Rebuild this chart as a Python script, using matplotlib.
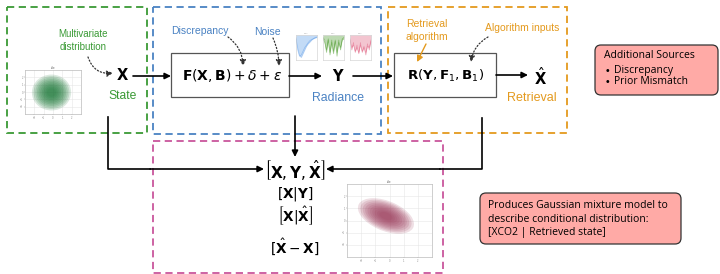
import matplotlib.pyplot as plt
from matplotlib.patches import Rectangle, FancyBboxPatch, Ellipse

plt.rcParams['mathtext.fontset'] = 'dejavusans'
plt.rcParams['font.family'] = 'Liberation Sans'

# stage colours and labels
green, blue, orange, pink = '#3a9a35', '#4a82c3', '#e49a1e', '#c9569c'
state_note = ['Multivariate', 'distribution']
forward_eq = r'$\mathbf{F}(\mathbf{X},\mathbf{B})+\delta+\epsilon$'
retrieval_eq = r'$\mathbf{R}(\mathbf{Y},\mathbf{F}_1,\mathbf{B}_1)$'
joint_terms = [r'$\left[\mathbf{X},\mathbf{Y},\hat{\mathbf{X}}\right]$',
               r'$\left[\mathbf{X}|\mathbf{Y}\right]$',
               r'$\left[\mathbf{X}|\hat{\mathbf{X}}\right]$',
               r'$\left[\hat{\mathbf{X}}-\mathbf{X}\right]$']
sources_title = 'Additional Sources'
sources_items = ['Discrepancy', 'Prior Mismatch']
gmm_lines = ['Produces Gaussian mixture model to',
             'describe conditional distribution:',
             '[XCO2 | Retrieved state]']

# hand-read spectra shapes for the three small radiance plots
spec_x = [0, 1, 2, 3, 4, 5, 6, 7, 8, 9, 10, 11, 12]
spec_blue = [[0.9, 0.5, 0.2, 0.1, 0.25, 0.4, 0.55, 0.65, 0.72, 0.8, 0.85, 0.88, 0.9],
             [0.85, 0.4, 0.15, 0.2, 0.35, 0.5, 0.6, 0.7, 0.78, 0.82, 0.86, 0.9, 0.92]]
spec_green = [[0.9, 0.8, 0.3, 0.85, 0.2, 0.8, 0.35, 0.75, 0.15, 0.8, 0.4, 0.85, 0.9],
              [0.85, 0.7, 0.4, 0.8, 0.3, 0.7, 0.25, 0.8, 0.3, 0.7, 0.5, 0.8, 0.85]]
spec_red = [[0.85, 0.4, 0.7, 0.3, 0.6, 0.25, 0.7, 0.3, 0.55, 0.2, 0.65, 0.4, 0.8],
            [0.8, 0.5, 0.6, 0.35, 0.5, 0.3, 0.6, 0.35, 0.5, 0.3, 0.55, 0.5, 0.75]]

W, H = 720, 274
fig = plt.figure(figsize=(W / 100, H / 100), dpi=100)
ax = fig.add_axes([0, 0, 1, 1])
ax.set_xlim(0, W)
ax.set_ylim(H, 0)
ax.axis('off')


def inset(x0, y0, x1, y1):
    return fig.add_axes([x0 / W, 1 - y1 / H, (x1 - x0) / W, (y1 - y0) / H])


def dashed_box(x0, y0, x1, y1, c):
    ax.add_patch(Rectangle((x0, y0), x1 - x0, y1 - y0, fill=False, ec=c,
                           lw=1.3, ls=(0, (4, 2.5))))


def arrow(p0, p1, c='black', ls='-', rad=0.0, lw=1.2):
    ax.annotate('', xy=p1, xytext=p0,
                arrowprops=dict(arrowstyle='-|>', color=c, lw=lw, ls=ls,
                                mutation_scale=9, shrinkA=0, shrinkB=0,
                                connectionstyle=f'arc3,rad={rad}'))


def blob_plot(x0, y0, x1, y1, cx, cy, w, h, ang, col):
    a = inset(x0, y0, x1, y1)
    a.set_xlim(-3, 3)
    a.set_ylim(-3, 3)
    for s in a.spines.values():
        s.set_color('#bbbbbb')
        s.set_linewidth(0.5)
    a.grid(color='#e6e6e6', lw=0.4)
    a.set_axisbelow(True)
    a.set_xticks([-2, -1, 0, 1, 2])
    a.set_yticks([-2, -1, 0, 1, 2])
    a.tick_params(labelsize=1.8, length=1, width=0.3, colors='#888888', pad=0.5)
    a.set_title('title', fontsize=2, pad=1, color='#555555')
    for i in range(10):
        k = 1.0 - 0.085 * i
        a.add_patch(Ellipse((cx, cy), w * k, h * k, angle=ang, fc=col, ec='none', alpha=0.16))
    return a


def spec_plot(x0, y0, x1, y1, series, col):
    a = inset(x0, y0, x1, y1)
    for s in a.spines.values():
        s.set_color('#cccccc')
        s.set_linewidth(0.4)
    a.set_xticks([])
    a.set_yticks([])
    a.set_title('spec', fontsize=1.5, pad=0.5, color='#999999')
    for ys in series:
        a.fill_between(spec_x, ys, 1, color=col, alpha=0.2, lw=0)
        a.plot(spec_x, ys, color=col, lw=0.5, alpha=0.5)
    a.set_ylim(0, 1)
    a.set_xlim(0, 12)
    a.patch.set_alpha(0.4)


# stage boxes
dashed_box(7, 7, 147, 133, green)
dashed_box(153, 7, 381, 134, blue)
dashed_box(388, 7, 567, 133, orange)
dashed_box(153, 141, 443, 273, pink)

# state stage
ax.text(83, 34, state_note[0], color=green, fontsize=7, ha='center', va='center')
ax.text(83, 47, state_note[1], color=green, fontsize=7, ha='center', va='center')
ax.text(122, 75, r'$\mathbf{X}$', fontsize=10.5, ha='center', va='center')
ax.text(123, 96, 'State', color=green, fontsize=8.7, ha='center', va='center')
arrow((88, 57), (113, 73), c='#333333', ls=':', rad=0.4, lw=0.9)
blob_plot(25, 70, 81, 114, -0.16, -0.07, 4.2, 4.9, 0, '#1f7a3a')

# forward model stage
ax.add_patch(Rectangle((171, 53), 118, 44, fill=False, ec='#555555', lw=0.9))
ax.text(232, 76, forward_eq, fontsize=10, ha='center', va='center')
ax.text(200, 31, 'Discrepancy', color=blue, fontsize=7.5, ha='center', va='center')
ax.text(267, 32, 'Noise', color=blue, fontsize=7.5, ha='center', va='center')
arrow((228, 37), (243, 66), c='#333333', ls=':', rad=-0.25, lw=0.9)
arrow((273, 38), (279, 66), c='#333333', ls=':', rad=-0.1, lw=0.9)
spec_plot(296, 35, 317, 60, spec_blue, '#5b9be8')
spec_plot(323, 35, 344, 60, spec_green, '#4a9a2a')
spec_plot(350, 35, 371, 60, spec_red, '#e06080')
ax.text(338, 76, r'$\mathbf{Y}$', fontsize=10.5, ha='center', va='center')
ax.text(338, 98, 'Radiance', color=blue, fontsize=8.8, ha='center', va='center')

# retrieval stage
ax.add_patch(Rectangle((394, 53), 102, 44, fill=False, ec='#555555', lw=0.9))
ax.text(446, 76, retrieval_eq, fontsize=9.6, ha='center', va='center')
ax.text(427, 24, 'Retrieval', color=orange, fontsize=7.5, ha='center', va='center')
ax.text(427, 37, 'algorithm', color=orange, fontsize=7.5, ha='center', va='center')
ax.text(522, 28, 'Algorithm inputs', color=orange, fontsize=7.5, ha='center', va='center')
arrow((426, 44), (417, 62), c=orange, lw=1.0)
arrow((488, 37), (471, 62), c='#333333', ls=':', rad=0.25, lw=0.9)
ax.text(540, 77, r'$\hat{\mathbf{X}}$', fontsize=10.5, ha='center', va='center')
ax.text(532, 98, 'Retrieval', color=orange, fontsize=9, ha='center', va='center')

# main flow arrows
arrow((133, 76), (171, 76))
arrow((289, 76), (322, 76))
arrow((353, 76), (393, 76))
arrow((496, 75), (528, 75))
arrow((295, 116), (295, 157))
ax.plot([108, 108, 150], [117, 169, 169], color='black', lw=1.2)
arrow((150, 169), (264, 169))
ax.plot([482, 482, 440], [118, 169, 169], color='black', lw=1.2)
arrow((440, 169), (326, 169))

# joint / conditional terms
ax.text(295, 170, joint_terms[0], fontsize=11, ha='center', va='center')
ax.text(295, 194, joint_terms[1], fontsize=9.8, ha='center', va='center')
ax.text(295, 216, joint_terms[2], fontsize=9.8, ha='center', va='center')
ax.text(295, 247, joint_terms[3], fontsize=9.8, ha='center', va='center')
blob_plot(347, 184, 432, 257, -0.25, 0.37, 4.3, 2.4, -28, '#9c3a5a')

# callout boxes
for (x0, y0, x1, y1) in [(595, 45, 718, 95), (480, 193, 681, 244)]:
    ax.add_patch(FancyBboxPatch((x0, y0), x1 - x0, y1 - y0,
                                boxstyle='round,pad=0,rounding_size=6',
                                fc='#ffaaa6', ec='#333333', lw=0.9))
ax.text(604, 55, sources_title, fontsize=7.5, va='center', family='Open Sans')
for i, t in enumerate(sources_items):
    ax.text(606, 71 + 11 * i, '\u2022', fontsize=7.5, va='center')
    ax.text(614, 71 + 11 * i, t, fontsize=7.5, va='center', family='Open Sans')
for i, t in enumerate(gmm_lines):
    ax.text(488, 206 + 13 * i, t, fontsize=7.5, va='center', family='Open Sans')

fig.savefig('out.png', dpi=100)
